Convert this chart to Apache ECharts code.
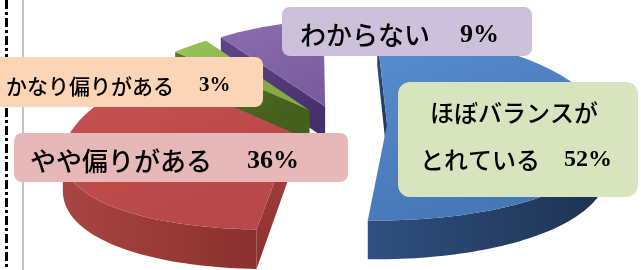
<!DOCTYPE html>
<html><head><meta charset="utf-8">
<script src="https://cdn.jsdelivr.net/npm/echarts@6/dist/echarts.min.js"></script>
<style>html,body{margin:0;padding:0;background:#fff;overflow:hidden}#c{width:641px;height:270px}</style>
</head><body><div id="c"></div>
<script>
// ---- data ----
const categories = ['ほぼバランスがとれている', 'やや偏りがある', 'かなり偏りがある', 'わからない'];
const values = [52, 36, 3, 9];
// ---- styles ----
const topColors  = [['#5a8ed0', '#4677b6'], ['#c9524f', '#b9484a'], ['#9cc45a', '#86ab45'], ['#8a6eb0', '#7a5e9e']];
const sideColors = [['#2f5080', '#1d3250'], ['#a94542', '#8a302e'], ['#5d7d2c', '#44601c'], ['#5f4788', '#45306a']];
const labelFills = ['#d7e4bd', '#e6b9b8', '#fbd5b5', '#ccc0da'];
const labelBoxes = [
  {x: 398, y: 82, w: 240, h: 115, r: 12, tx: [430, 420], ty: [113, 160], size: 24, split: 7, gap: 0},
  {x: 14, y: 133, w: 334, h: 49, r: 8, tx: [30], ty: [161], size: 26, gap: 9},
  {x: -10, y: 57, w: 273, h: 50, r: 8, tx: [6], ty: [86], size: 21, gap: 4},
  {x: 282, y: 7, w: 250, h: 49, r: 8, tx: [300], ty: [35], size: 26, gap: 4}
];
// 3D pie geometry
const G = {cx: 339, cy: 125, vx: 440, r: 220, ry: 88, q: 8, p: 0.15, h: 33, explode: 48, start: -5};

const total = values.reduce((a, b) => a + b, 0);
const deg = Math.PI / 180;
const slices = values.map((v, i) => {
  const c = values.slice(0, i).reduce((a, b) => a + b, 0);
  return {a1: G.start + 360 * c / total, a2: G.start + 360 * (c + v) / total};
});
slices.forEach(s => { const m = (s.a1 + s.a2) / 2 * deg; s.ox = G.explode * Math.sin(m); s.oz = G.explode * Math.cos(m); });
const order = slices.map((s, i) => i).sort((a, b) => slices[b].oz - slices[a].oz);
const rank = []; order.forEach((idx, k) => rank[idx] = k);

function proj(X, Z, h) {
  const zn = Z / G.r;
  const s = 1 / (1 + G.p * zn);
  const y = G.cy - zn * (G.ry + G.q / 2) + (G.q / 2) * zn * zn;
  return [G.vx + (G.cx + X - G.vx) * s, y + h * s];
}
function area(pts) {
  let a = 0;
  for (let i = 0; i < pts.length; i++) { const p = pts[i], q = pts[(i + 1) % pts.length]; a += p[0] * q[1] - q[0] * p[1]; }
  return a;
}
function grad(c, horiz) {
  return {type: 'linear', x: 0, y: 0, x2: horiz ? 1 : 0.3, y2: horiz ? 0 : 1, colorStops: [{offset: 0, color: c[0]}, {offset: 1, color: c[1]}]};
}

function renderItem(params, api) {
  const i = params.dataIndex;
  const sl = slices[i];
  const rim = (a, h) => proj(sl.ox + G.r * Math.sin(a * deg), sl.oz + G.r * Math.cos(a * deg), h);
  const V = proj(sl.ox, sl.oz, 0), Vb = proj(sl.ox, sl.oz, G.h);
  const N = Math.max(2, Math.ceil((sl.a2 - sl.a1) / 1.5));
  const children = [];
  const zb = rank[i] * 10;
  const f1 = [V, rim(sl.a1, 0), rim(sl.a1, G.h), Vb];
  const f2 = [rim(sl.a2, 0), V, Vb, rim(sl.a2, G.h)];
  [f1, f2].forEach(f => {
    if (area(f) < 0) children.push({type: 'polygon', shape: {points: f}, style: {fill: grad(sideColors[i], false)}, z2: zb});
  });
  let run = null;
  const flush = () => {
    if (run && run.t.length > 1) {
      children.push({type: 'polygon', shape: {points: run.t.concat(run.b.slice().reverse())}, style: {fill: grad(sideColors[i], true)}, z2: zb + 1});
    }
    run = null;
  };
  for (let k = 0; k < N; k++) {
    const t0 = sl.a1 + (sl.a2 - sl.a1) * k / N, t1 = sl.a1 + (sl.a2 - sl.a1) * (k + 1) / N;
    const T0 = rim(t0, 0), T1 = rim(t1, 0), B0 = rim(t0, G.h), B1 = rim(t1, G.h);
    if (area([T0, T1, B1, B0]) < 0) {
      if (!run) run = {t: [T0], b: [B0]};
      run.t.push(T1); run.b.push(B1);
    } else flush();
  }
  flush();
  const top = [V];
  for (let k = 0; k <= N; k++) top.push(rim(sl.a1 + (sl.a2 - sl.a1) * k / N, 0));
  children.push({type: 'polygon', shape: {points: top}, style: {fill: grad(topColors[i], false)}, z2: zb + 2});
  return {type: 'group', children};
}

const jpFont = "'Noto Sans CJK JP', sans-serif";
const numFont = "'Liberation Serif', serif";
const graphics = [
  {type: 'line', shape: {x1: 6.5, y1: 0, x2: 6.5, y2: 270}, style: {stroke: '#000', lineWidth: 3, lineDash: [9, 3, 3, 3]}, z: 1},
  {type: 'line', shape: {x1: 23, y1: 0, x2: 23, y2: 270}, style: {stroke: '#c4c4c4', lineWidth: 2}, z: 1}
];
values.forEach((v, i) => {
  const b = labelBoxes[i];
  graphics.push({type: 'rect', shape: {x: b.x, y: b.y, width: b.w, height: b.h, r: b.r}, style: {fill: labelFills[i]}, z: 100});
  const name = categories[i];
  const lines = b.split ? [name.slice(0, b.split), name.slice(b.split)] : [name];
  const rich = {
    j: {fontSize: b.size, fontFamily: jpFont, fontWeight: 500, fill: '#000'},
    n: {fontSize: b.size, fontFamily: numFont, fontWeight: 'bold', fill: '#000', padding: [0, 0, 0, b.gap]}
  };
  lines.forEach((ln, k) => {
    const last = k === lines.length - 1;
    const txt = '{j|' + ln + (last ? '　' : '') + '}' + (last ? '{n|' + v + '%}' : '');
    graphics.push({type: 'text', x: b.tx[k], y: b.ty[k], style: {text: txt, rich, verticalAlign: 'middle', align: 'left'}, z: 101});
  });
});

const chart = echarts.init(document.getElementById('c'));
chart.setOption({
  animation: false,
  backgroundColor: '#ffffff',
  series: [{
    type: 'custom', coordinateSystem: 'none', renderItem,
    data: values.map((v, i) => ({name: categories[i], value: [v, i]})), z: 2
  }],
  graphic: {elements: graphics}
});
</script></body></html>
